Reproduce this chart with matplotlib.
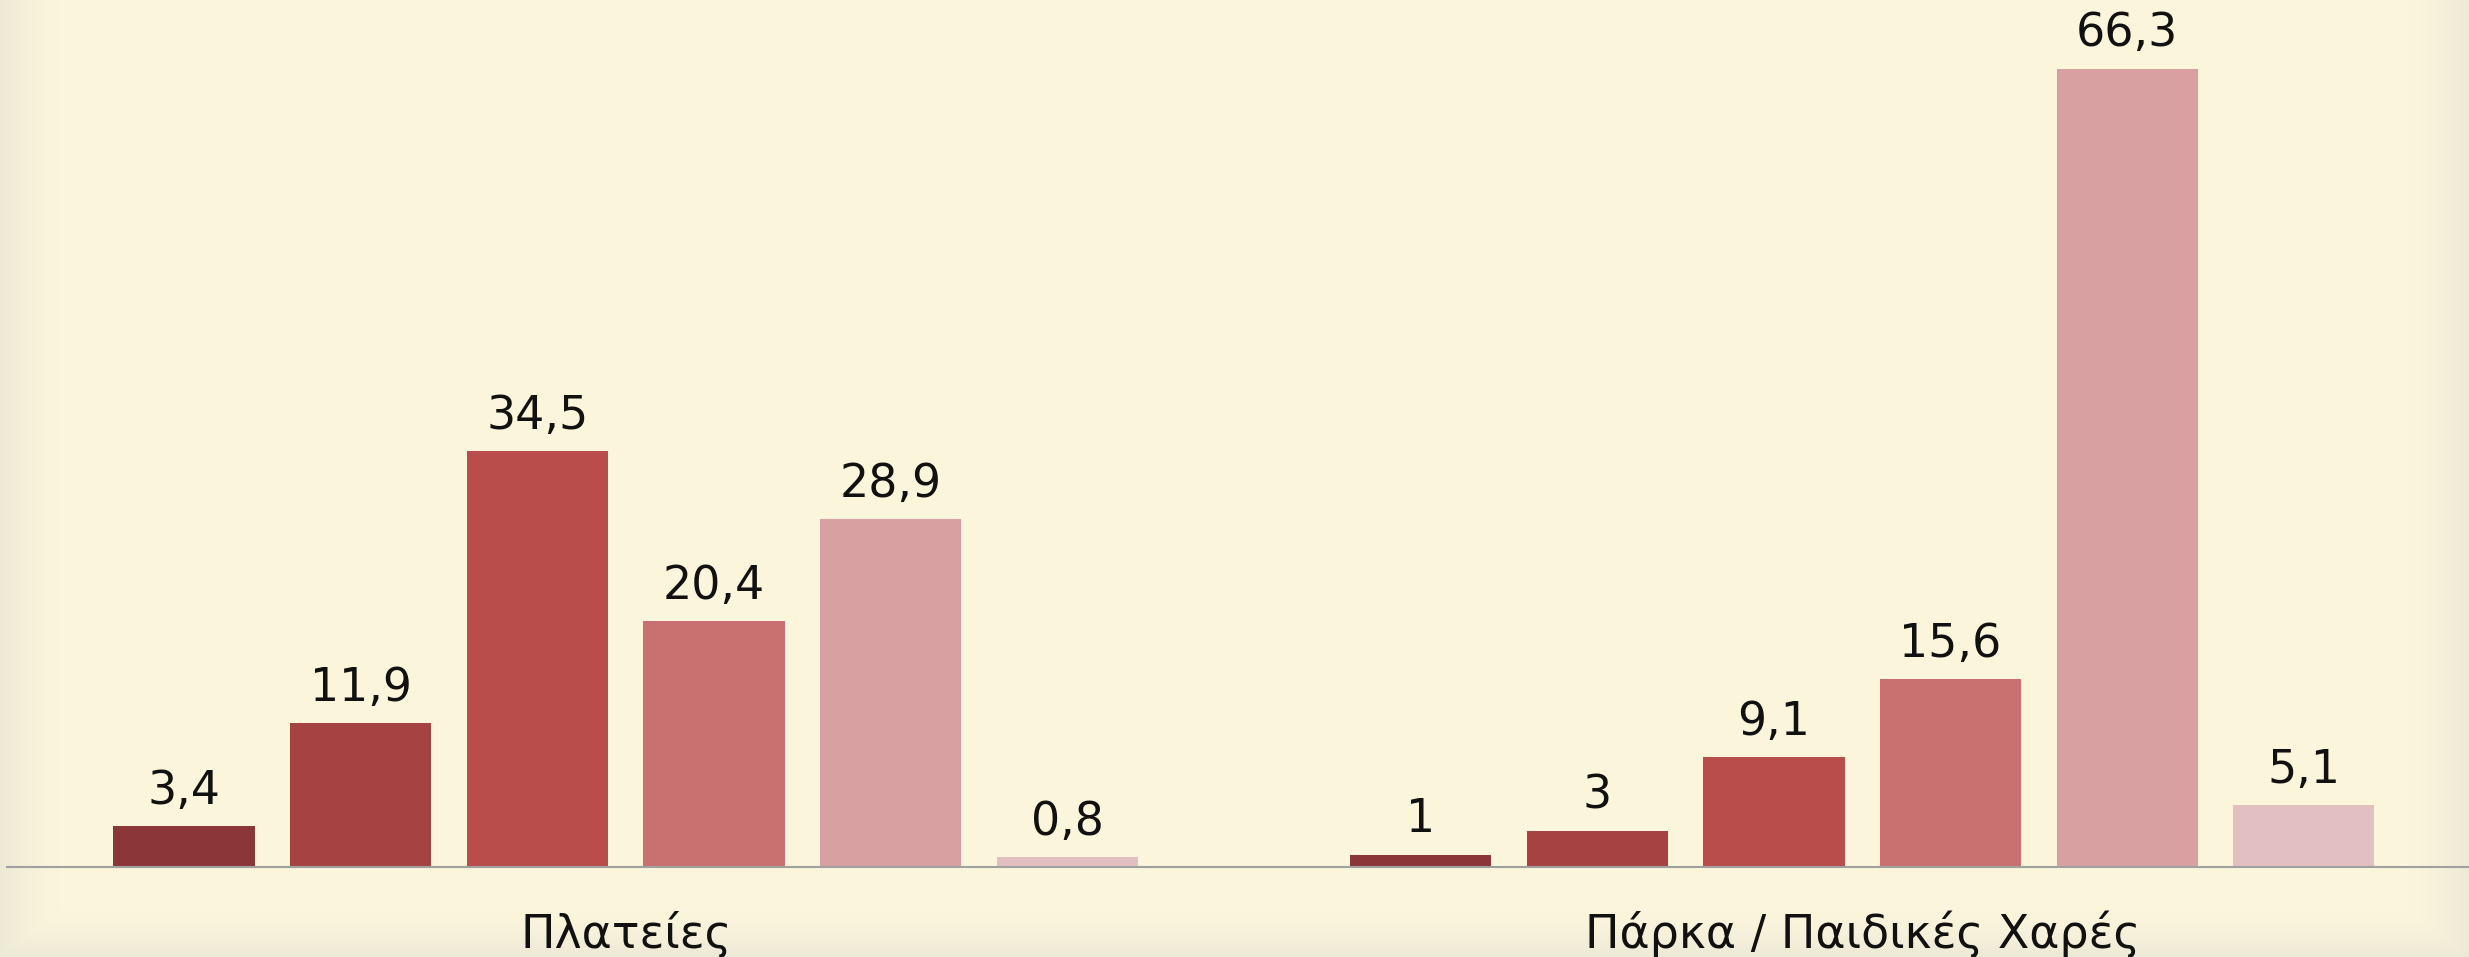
import matplotlib.pyplot as plt
import numpy as np

groups = ['Πλατείες', 'Πάρκα / Παιδικές Χαρές']
vals_plateies = [3.4, 11.9, 34.5, 20.4, 28.9, 0.8]
vals_parka = [1, 3, 9.1, 15.6, 66.3, 5.1]
bar_colors = ['#8B3737', '#A54242', '#B84D4B', '#C87170', '#D8A0A0', '#E2C0C2']

W, H = 2469, 958
fig = plt.figure(figsize=(W / 100, (H - 0.2) / 100), dpi=100)

# background with soft darker edges
bg = fig.add_axes([0, 0, 1, 1])
base = np.array([251, 245, 220]) / 255
edge = np.array([236, 233, 214]) / 255
xs = np.arange(W)
ys = np.arange(H)
fx = np.clip(1 - np.minimum(xs, W - 1 - xs) / 60.0, 0, 1)
fy = np.clip(1 - (H - 1 - ys) / 45.0, 0, 1)
w = np.maximum(fx[None, :], fy[:, None]) ** 1.5
img = base[None, None, :] * (1 - w[..., None]) + edge[None, None, :] * w[..., None]
bg.imshow(img, aspect='auto', extent=[0, 1, 0, 1])
bg.axis('off')

ax = fig.add_axes([7 / W, 90.4 / H, 1 - 7 / W, 867.6 / H])
ax.patch.set_alpha(0)

for g, vals in enumerate([vals_plateies, vals_parka]):
    x = np.arange(len(vals)) + g * 7
    bars = ax.bar(x, vals, width=0.8, color=bar_colors)
    for xi, v in zip(x, vals):
        label = ('%g' % v).replace('.', ',')
        ax.annotate(label, (xi, v), xytext=(0, 16.5), textcoords='offset points',
                    ha='center', va='baseline', fontsize=33, color='#111111')
    ax.annotate(groups[g], (x.mean(), 0), xycoords=('data', 'axes fraction'),
                xytext=(0, -57.8), textcoords='offset points',
                ha='center', va='baseline', fontsize=33, color='#111111')

ax.set_xlim(-1.0025, 12.935)
ax.set_ylim(0, 72.06)
for s in ['top', 'left', 'right']:
    ax.spines[s].set_visible(False)
ax.spines['bottom'].set_color('#A0A0A0')
ax.spines['bottom'].set_linewidth(1.5)
ax.set_xticks([])
ax.set_yticks([])

fig.savefig('out.png', dpi=100)
